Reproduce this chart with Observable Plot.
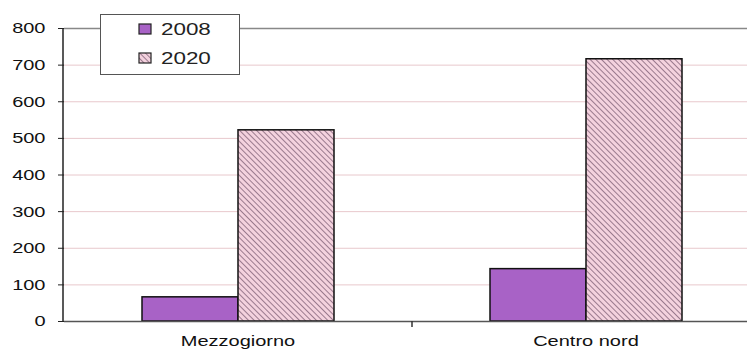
<!DOCTYPE html>
<html>
<head>
<meta charset="utf-8">
<script src="https://cdn.jsdelivr.net/npm/d3@7"></script>
<script src="https://cdn.jsdelivr.net/npm/@observablehq/plot@0.6"></script>
<style>
  html, body { margin: 0; padding: 0; background: #fff; }
  #chart { position: relative; width: 747px; height: 352px; overflow: hidden; }
  #legend { position: absolute; left: 100px; top: 14px; width: 140px; height: 61px;
    border: 1px solid #555; background: #fff; box-sizing: border-box; }
  #legend svg { position: absolute; left: 0; top: 0; }
</style>
</head>
<body>
<div id="chart"></div>
<script>
const regions = ["Mezzogiorno", "Centro nord"];
const years = ["2008", "2020"];
const values2008 = [66, 143];
const values2020 = [522, 716];
const yTicks = [0, 100, 200, 300, 400, 500, 600, 700, 800];

const data = [];
regions.forEach((r, i) => {
  data.push({region: r, year: years[0], value: values2008[i]});
  data.push({region: r, year: years[1], value: values2020[i]});
});

const purple = "#a862c6";
const fills = {"2008": purple, "2020": "url(#hatch)"};
const FONT = "'Liberation Sans', Arial, sans-serif";

const plot = Plot.plot({
  width: 747,
  height: 352,
  marginLeft: 63,
  marginRight: -13,
  marginTop: 28,
  marginBottom: 31,
  style: {fontFamily: FONT, fontSize: "15px", color: "#111", background: "transparent"},
  fx: {domain: regions, padding: 0, label: null, axis: null},
  x: {domain: years, paddingInner: 0, paddingOuter: 0.795, axis: null},
  y: {domain: [0, 800], ticks: yTicks, label: null},
  marks: [
    Plot.ruleY(yTicks.filter(d => d > 0 && d < 800), {stroke: "#e8c8cc", strokeWidth: 1}),
    Plot.ruleY([800], {stroke: "#888", strokeWidth: 1.5}),
    Plot.barY(data, {fx: "region", x: "year", y: "value", fill: d => fills[d.year], stroke: "#111", strokeWidth: 1.5}),
    Plot.ruleY([0], {stroke: "#555", strokeWidth: 1.5}),
    Plot.axisY({ticks: yTicks, tickSize: 6, tickPadding: 13, fontSize: 15.5, stroke: "#222", fill: "#111", label: null})
  ]
});

document.getElementById("chart").appendChild(plot);

const svg = d3.select(plot);
const defs = svg.insert("defs", ":first-child");
function addHatch(defsSel, id) {
  const pat = defsSel.append("pattern").attr("id", id).attr("patternUnits", "userSpaceOnUse")
    .attr("width", 4).attr("height", 4).attr("patternTransform", "rotate(-45)");
  pat.append("rect").attr("width", 4).attr("height", 4).attr("fill", "#f4d2de");
  pat.append("line").attr("x1", 0).attr("y1", 0).attr("x2", 0).attr("y2", 4)
    .attr("stroke", "#8a6a80").attr("stroke-width", 1.7);
}
addHatch(defs, "hatch");

const fx = plot.scale("fx");
const y = plot.scale("y");
const bw = fx.bandwidth;
const x0 = fx.range[0];
const g = svg.append("g").attr("font-size", 15.5).attr("fill", "#111").attr("font-family", FONT);
g.append("line").attr("x1", x0).attr("x2", x0).attr("y1", y.apply(0)).attr("y2", y.apply(800))
  .attr("stroke", "#222").attr("stroke-width", 1.5);
regions.forEach(r => {
  g.append("text").attr("x", fx.apply(r) + bw / 2).attr("y", y.apply(0) + 25)
    .attr("text-anchor", "middle").text(r);
});
regions.slice(1).forEach(r => {
  g.append("line").attr("x1", fx.apply(r)).attr("x2", fx.apply(r))
    .attr("y1", y.apply(0)).attr("y2", y.apply(0) + 6).attr("stroke", "#333").attr("stroke-width", 1.5);
});

// legend (SVG)
const lsvg = d3.select("#chart").append("div").attr("id", "legend")
  .append("svg").attr("width", 140).attr("height", 61);
addHatch(lsvg.append("defs"), "hatchL");
years.forEach((yr, i) => {
  const cy = i === 0 ? 14 : 43;
  lsvg.append("rect").attr("x", 38).attr("y", cy - 5).attr("width", 12).attr("height", 10)
    .attr("fill", yr === "2008" ? purple : "url(#hatchL)").attr("stroke", "#222").attr("stroke-width", 1.2);
  lsvg.append("text").attr("x", 60).attr("y", cy).attr("dy", "0.36em")
    .attr("font-family", FONT).attr("font-size", 16).attr("fill", "#222").text(yr);
});

// widen glyphs to match the reference's horizontally stretched text
function stretch(sel, k) {
  sel.each(function () {
    const len = this.getComputedTextLength();
    if (len > 0) {
      this.setAttribute("textLength", len * k);
      this.setAttribute("lengthAdjust", "spacingAndGlyphs");
    }
  });
}
stretch(svg.selectAll("text"), 1.29);
stretch(lsvg.selectAll("text"), 1.4);
</script>
</body>
</html>
